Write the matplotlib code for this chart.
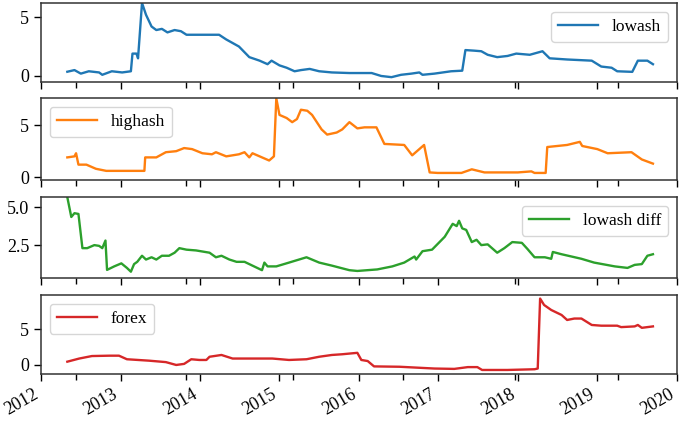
import matplotlib
matplotlib.use("Agg")
import matplotlib.pyplot as plt
import numpy as np

plt.rcParams['font.family'] = ['Liberation Serif', 'DejaVu Serif']
plt.rcParams['font.size'] = 12.5

# time in decimal years
lowash_t = [2012.33, 2012.42, 2012.50, 2012.60, 2012.73, 2012.77, 2012.89, 2013.02, 2013.13, 2013.15,
            2013.20, 2013.22, 2013.27, 2013.32, 2013.39, 2013.45, 2013.52, 2013.59, 2013.68, 2013.76,
            2013.83, 2013.99, 2014.24, 2014.33, 2014.49, 2014.62, 2014.75, 2014.85, 2014.90, 2015.00,
            2015.09, 2015.19, 2015.27, 2015.38, 2015.50, 2015.66, 2015.88, 2016.16, 2016.28, 2016.41,
            2016.53, 2016.66, 2016.76, 2016.80, 2016.95, 2017.16, 2017.30, 2017.34, 2017.45, 2017.54,
            2017.62, 2017.74, 2017.87, 2017.98, 2018.15, 2018.31, 2018.40, 2018.62, 2018.93, 2019.05,
            2019.18, 2019.25, 2019.44, 2019.51, 2019.63, 2019.70]
lowash_v = [0.36, 0.5, 0.2, 0.4, 0.3, 0.1, 0.4, 0.3, 0.4, 1.9,
            1.9, 1.5, 6.2, 5.2, 4.2, 3.9, 4.0, 3.7, 3.9, 3.8,
            3.5, 3.5, 3.5, 3.1, 2.5, 1.6, 1.3, 1.0, 1.3, 0.9,
            0.7, 0.4, 0.5, 0.6, 0.4, 0.3, 0.25, 0.25, 0.0, -0.1,
            0.1, 0.2, 0.3, 0.1, 0.2, 0.4, 0.45, 2.2, 2.15, 2.1,
            1.8, 1.6, 1.7, 1.9, 1.8, 2.1, 1.5, 1.4, 1.3, 0.8,
            0.7, 0.4, 0.35, 1.3, 1.3, 1.0]

highash_t = [2012.33, 2012.42, 2012.44, 2012.47, 2012.57, 2012.69, 2012.82, 2012.98, 2013.15, 2013.30,
             2013.31, 2013.45, 2013.57, 2013.70, 2013.80, 2013.90, 2014.03, 2014.15, 2014.20, 2014.33,
             2014.49, 2014.56, 2014.62, 2014.66, 2014.78, 2014.87, 2014.93, 2014.96, 2015.00, 2015.09,
             2015.16, 2015.22, 2015.27, 2015.35, 2015.41, 2015.53, 2015.60, 2015.72, 2015.79, 2015.88,
             2015.98, 2016.07, 2016.22, 2016.32, 2016.57, 2016.67, 2016.82, 2016.89, 2016.99, 2017.29,
             2017.42, 2017.58, 2018.00, 2018.17, 2018.21, 2018.35, 2018.37, 2018.62, 2018.78, 2018.81,
             2019.00, 2019.13, 2019.43, 2019.56, 2019.70]
highash_v = [1.9, 2.0, 2.3, 1.2, 1.2, 0.8, 0.6, 0.6, 0.6, 0.6,
             1.9, 1.9, 2.4, 2.5, 2.8, 2.7, 2.3, 2.2, 2.4, 2.0,
             2.2, 2.4, 1.9, 2.3, 1.9, 1.6, 2.0, 7.6, 6.0, 5.7,
             5.3, 5.6, 6.5, 6.4, 6.0, 4.6, 4.1, 4.3, 4.6, 5.3,
             4.7, 4.8, 4.8, 3.2, 3.1, 2.1, 3.1, 0.45, 0.4, 0.4,
             0.75, 0.45, 0.45, 0.55, 0.4, 0.4, 2.9, 3.1, 3.4, 3.0,
             2.7, 2.3, 2.4, 1.7, 1.3]

diff_t = [2012.33, 2012.38, 2012.42, 2012.47, 2012.52, 2012.58, 2012.67, 2012.73, 2012.77, 2012.81,
          2012.83, 2012.92, 2013.01, 2013.08, 2013.13, 2013.17, 2013.21, 2013.27, 2013.32, 2013.39,
          2013.45, 2013.52, 2013.61, 2013.68, 2013.74, 2013.83, 2013.95, 2014.12, 2014.20, 2014.27,
          2014.37, 2014.46, 2014.56, 2014.66, 2014.78, 2014.81, 2014.85, 2014.96, 2015.12, 2015.34,
          2015.50, 2015.66, 2015.88, 2015.98, 2016.23, 2016.42, 2016.57, 2016.70, 2016.72, 2016.80,
          2016.92, 2017.08, 2017.18, 2017.23, 2017.26, 2017.30, 2017.35, 2017.42, 2017.48, 2017.54,
          2017.62, 2017.74, 2017.83, 2017.93, 2018.05, 2018.12, 2018.21, 2018.34, 2018.42, 2018.44,
          2018.55, 2018.80, 2018.96, 2019.22, 2019.38, 2019.47, 2019.56, 2019.63, 2019.70]
diff_v = [5.65, 4.35, 4.6, 4.55, 2.3, 2.3, 2.5, 2.45, 2.3, 2.8,
          0.87, 1.1, 1.3, 1.0, 0.75, 1.25, 1.4, 1.8, 1.55, 1.7,
          1.55, 1.8, 1.8, 2.0, 2.3, 2.2, 2.15, 2.0, 1.7, 1.8,
          1.55, 1.4, 1.4, 1.15, 0.85, 1.35, 1.1, 1.1, 1.35, 1.7,
          1.35, 1.15, 0.85, 0.8, 0.9, 1.1, 1.35, 1.75, 1.55, 2.1,
          2.2, 3.05, 3.9, 3.75, 4.1, 3.6, 3.5, 2.7, 2.85, 2.5,
          2.55, 2.0, 2.3, 2.7, 2.65, 2.25, 1.7, 1.7, 1.6, 2.05,
          1.9, 1.6, 1.35, 1.1, 1.0, 1.2, 1.25, 1.8, 1.9]

forex_t = [2012.33, 2012.48, 2012.64, 2012.86, 2012.98, 2013.08, 2013.36, 2013.57, 2013.70, 2013.80,
           2013.89, 2013.99, 2014.08, 2014.12, 2014.27, 2014.41, 2014.62, 2014.91, 2015.12, 2015.34,
           2015.50, 2015.66, 2015.79, 2015.98, 2016.03, 2016.11, 2016.19, 2016.51, 2016.95, 2017.20,
           2017.37, 2017.49, 2017.55, 2017.87, 2018.21, 2018.25, 2018.28, 2018.33, 2018.42, 2018.55,
           2018.62, 2018.71, 2018.80, 2018.93, 2019.05, 2019.25, 2019.30, 2019.47, 2019.51, 2019.56,
           2019.70]
forex_v = [0.46, 0.9, 1.25, 1.3, 1.3, 0.8, 0.6, 0.4, 0.0, 0.15,
           0.8, 0.7, 0.7, 1.15, 1.4, 0.9, 0.9, 0.9, 0.7, 0.8,
           1.15, 1.4, 1.5, 1.7, 0.7, 0.55, -0.2, -0.25, -0.5, -0.55,
           -0.3, -0.3, -0.7, -0.7, -0.6, -0.5, 9.3, 8.4, 7.7, 7.0,
           6.3, 6.5, 6.5, 5.6, 5.5, 5.5, 5.3, 5.4, 5.6, 5.2,
           5.4]

labels = ['lowash', 'highash', 'lowash diff', 'forex']
colors = ['#1f77b4', '#ff7f0e', '#2ca02c', '#d62728']
ylims = [(-0.5, 6.2), (-0.3, 7.6), (0.33, 5.66), (-1.25, 9.8)]
yticks = [[0, 5], [0, 5], [2.5, 5.0], [0, 5]]
ytlabels = [['0', '5'], ['0', '5'], ['2.5', '5.0'], ['0', '5']]
legend_locs = ['upper right', 'upper left', 'upper right', 'upper left']
year_ticks = list(range(2012, 2021))
minor_ticks = [2012.44, 2013.82, 2015.17, 2016.55, 2017.97, 2019.26]

series = [(lowash_t, lowash_v), (highash_t, highash_v), (diff_t, diff_v), (forex_t, forex_v)]

fig = plt.figure(figsize=(6.85, 4.22), dpi=100)
left, width = 0.060, 0.928
bottoms = [0.806, 0.573, 0.341, 0.114]
heights = [0.187, 0.194, 0.192, 0.187]

for i, ((t, v), lab, c) in enumerate(zip(series, labels, colors)):
    ax = fig.add_axes([left, bottoms[i], width, heights[i]])
    ax.plot(t, v, color=c, lw=1.7, label=lab)
    ax.set_xlim(2012, 2020)
    ax.set_ylim(*ylims[i])
    ax.set_yticks(yticks[i])
    ax.set_yticklabels(ytlabels[i])
    ax.set_xticks(year_ticks)
    ax.set_xticks(minor_ticks, minor=True)
    ax.tick_params(axis='both', which='major', length=5, width=1, labelsize=13)
    ax.tick_params(axis='x', which='minor', length=4, width=1)
    for s in ax.spines.values():
        s.set_linewidth(1.1)
        s.set_color('#333333')
    if i < 3:
        ax.set_xticklabels([])
    else:
        ax.set_xticklabels([str(y) for y in year_ticks], rotation=30, ha='right')
    ax.legend(loc=legend_locs[i], handlelength=2.3, fancybox=True)

fig.savefig('out.png', dpi=100)
